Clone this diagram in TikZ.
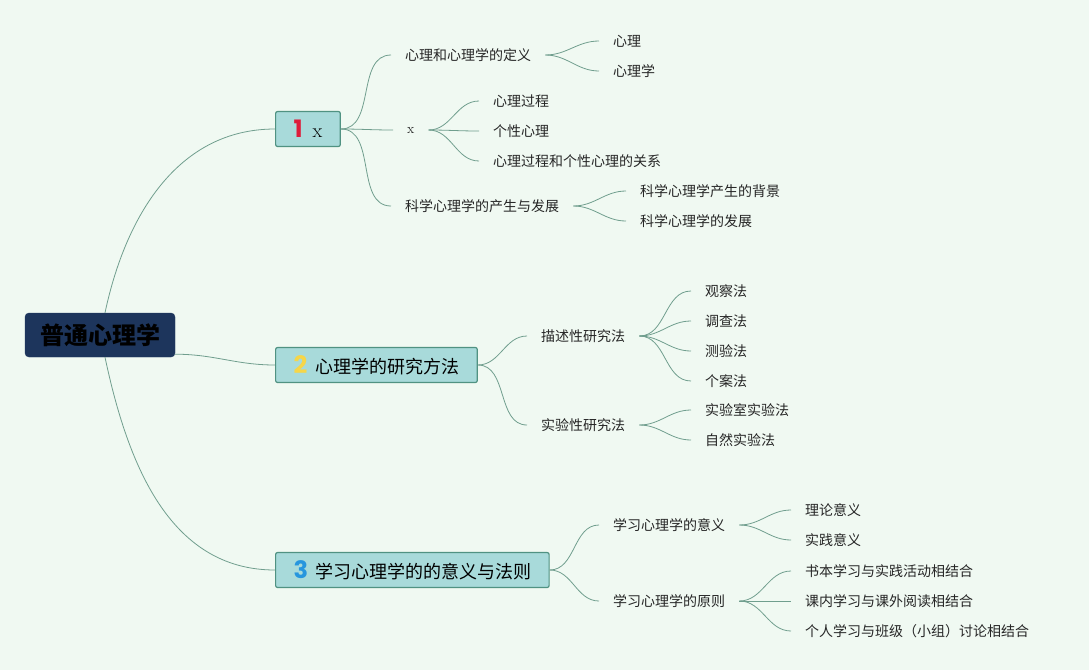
\documentclass[tikz,border=0pt]{standalone}
\usepackage{fontspec}
\newfontfamily\cjk{Noto Sans CJK SC}
\newfontfamily\numfont{Poppins}
\usetikzlibrary{positioning}

\definecolor{bgmint}{RGB}{240,249,242}
\definecolor{branchline}{RGB}{112,158,142}
\definecolor{boxfill}{RGB}{168,218,218}
\definecolor{boxedge}{RGB}{80,146,130}
\definecolor{rootfill}{RGB}{29,53,92}
\definecolor{numred}{RGB}{222,28,58}
\definecolor{numyellow}{RGB}{246,214,72}
\definecolor{numblue}{RGB}{38,150,222}

\newcommand\bignum[2]{{\color{#1}\numfont\bfseries\fontsize{24}{24}\selectfont #2}}

\tikzset{
	rootbox/.style={draw=rootfill, fill=rootfill, rounded corners=4pt, inner xsep=15pt,
		minimum height=44pt, font=\cjk\bfseries\fontsize{24}{24}\selectfont, text=black},
	mainbox/.style={draw=boxedge, fill=boxfill, line width=1.2pt, rounded corners=2pt,
		minimum height=35pt, inner xsep=18pt, anchor=west, font=\cjk\fontsize{18}{18}\selectfont},
	topic/.style={anchor=west, inner xsep=14pt, font=\cjk\fontsize{14}{16}\selectfont, text=black!85},
	branch/.style={draw=branchline, line width=0.8pt},
}

\begin{document}
\begin{tikzpicture}[x=1pt, y=-1pt]
%
%Hintergrund
\fill[bgmint] (0,0) rectangle (1089,670);
\useasboundingbox (0,0) rectangle (1089,670);

%Wurzel & Hauptthemen
\node[rootbox] (root) at (100,335) {普通心理学};

\node[mainbox] (m1) at (275,129) {\bignum{numred}{1}\hspace{10pt}{\rmfamily\fontsize{20}{20}\selectfont x}};
\node[mainbox] (m2) at (275,365) {\bignum{numyellow}{2}\hspace{8pt}心理学的研究方法};
\node[mainbox] (m3) at (275,570) {\bignum{numblue}{3}\hspace{7pt}学习心理学的的意义与法则};

	\draw[branch] ([xshift=5pt]root.north) to[out=78,in=180] (m1.west);
	\draw[branch] ([yshift=3pt]root.south east) to[out=0,in=180] (m2.west);
	\draw[branch] ([xshift=5pt]root.south) to[out=-78,in=180] (m3.west);

%Thema 1
\node[topic] (t11) at (391,55) {心理和心理学的定义};
\node[topic] (t12) at (393,130) {\rmfamily x};
\node[topic] (t13) at (391,206) {科学心理学的产生与发展};

	\foreach \t in {t11,t12,t13}{
		\draw[branch] (m1.east) to[out=0,in=180] (\t.west);
	}

	\foreach \n/\y/\txt in {a/41/心理, b/71/心理学}{
		\node[topic] (t11\n) at (599,\y) {\txt};
		\draw[branch] (t11.east) to[out=0,in=180] (t11\n.west);
	}
	\foreach \n/\y/\txt in {a/101/心理过程, b/131/个性心理, c/161/心理过程和个性心理的关系}{
		\node[topic] (t12\n) at (479,\y) {\txt};
		\draw[branch] (t12.east) to[out=0,in=180] (t12\n.west);
	}
	\foreach \n/\y/\txt in {a/191/科学心理学产生的背景, b/221/科学心理学的发展}{
		\node[topic] (t13\n) at (626,\y) {\txt};
		\draw[branch] (t13.east) to[out=0,in=180] (t13\n.west);
	}

%Thema 2
\node[topic] (t21) at (527,336) {描述性研究法};
\node[topic] (t22) at (527,425) {实验性研究法};

	\foreach \t in {t21,t22}{
		\draw[branch] (m2.east) to[out=0,in=180] (\t.west);
	}

	\foreach \n/\y/\txt in {a/291/观察法, b/321/调查法, c/351/测验法, d/381/个案法}{
		\node[topic] (t21\n) at (691,\y) {\txt};
		\draw[branch] (t21.east) to[out=0,in=180] (t21\n.west);
	}
	\foreach \n/\y/\txt in {a/410/实验室实验法, b/440/自然实验法}{
		\node[topic] (t22\n) at (691,\y) {\txt};
		\draw[branch] (t22.east) to[out=0,in=180] (t22\n.west);
	}

%Thema 3
\node[topic] (t31) at (599,525) {学习心理学的意义};
\node[topic] (t32) at (599,601) {学习心理学的原则};

	\foreach \t in {t31,t32}{
		\draw[branch] (m3.east) to[out=0,in=180] (\t.west);
	}

	\foreach \n/\y/\txt in {a/510/理论意义, b/540/实践意义}{
		\node[topic] (t31\n) at (791,\y) {\txt};
		\draw[branch] (t31.east) to[out=0,in=180] (t31\n.west);
	}
	\foreach \n/\y/\txt in {a/571/书本学习与实践活动相结合, b/601/课内学习与课外阅读相结合, c/631/个人学习与班级（小组）讨论相结合}{
		\node[topic] (t32\n) at (791,\y) {\txt};
		\draw[branch] (t32.east) to[out=0,in=180] (t32\n.west);
	}

\end{tikzpicture}
\end{document}
